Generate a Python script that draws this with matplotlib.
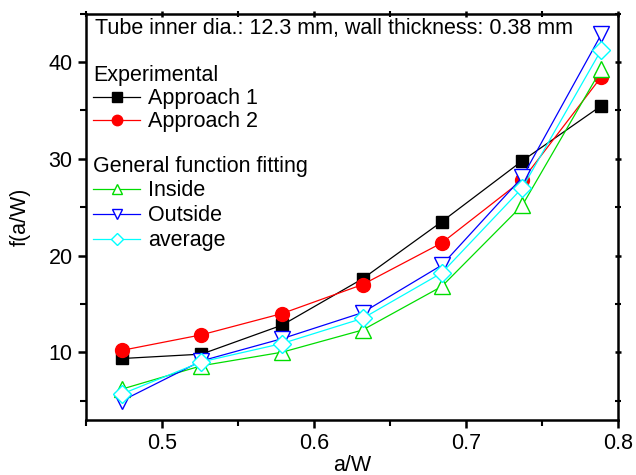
import matplotlib
matplotlib.use('Agg')
from matplotlib import pyplot as plt
from matplotlib.ticker import MultipleLocator

plt.rcParams['font.family'] = ['Liberation Sans', 'DejaVu Sans']

a_w = [0.474, 0.526, 0.579, 0.632, 0.684, 0.737, 0.789]
approach1 = [9.35, 9.8, 12.8, 17.6, 23.5, 29.8, 35.5]
approach2 = [10.2, 11.8, 14.0, 17.0, 21.3, 27.8, 38.5]
inside = [6.2, 8.6, 10.0, 12.3, 16.8, 25.2, 39.3]
outside = [5.0, 9.1, 11.4, 14.1, 19.0, 28.1, 42.9]
average = [5.7, 9.0, 10.9, 13.5, 18.2, 27.0, 41.3]

fig = plt.figure(figsize=(6.36, 4.75), dpi=100)
ax = fig.add_axes([0.135, 0.116, 0.837, 0.855])

lw = 0.9
h1, = ax.plot(a_w, approach1, '-s', color='black', lw=lw, ms=9, label='Approach 1')
h2, = ax.plot(a_w, approach2, '-o', color='red', lw=lw, ms=10, label='Approach 2')
h3, = ax.plot(a_w, inside, '-^', color='#00dd00', lw=lw, ms=11, mfc='white', mew=1, label='Inside')
h4, = ax.plot(a_w, outside, '-v', color='blue', lw=lw, ms=11, mfc='white', mew=1, label='Outside')
h5, = ax.plot(a_w, average, '-D', color='cyan', lw=lw, ms=9, mfc='white', mew=1, label='average')

ax.set_xlim(0.45, 0.8)
ax.set_ylim(3, 45)
ax.xaxis.set_major_locator(MultipleLocator(0.1))
ax.xaxis.set_minor_locator(MultipleLocator(0.05))
ax.yaxis.set_major_locator(MultipleLocator(10))
ax.yaxis.set_minor_locator(MultipleLocator(5))
ax.set_xticks([0.5, 0.6, 0.7, 0.8])
ax.set_xticklabels(['0.5', '0.6', '0.7', '0.8'])

fs = 15.5
for s in ax.spines.values():
    s.set_linewidth(1.8)
ax.tick_params(which='major', direction='out', length=6, width=1.8, labelsize=fs)
ax.tick_params(which='minor', direction='out', length=4, width=1.5)
ax.tick_params(which='both', top=True, right=True)
for t in ax.xaxis.get_major_ticks() + ax.xaxis.get_minor_ticks():
    t.tick2line.set_marker('|')
    t.tick2line.set_markersize(4)
for t in ax.yaxis.get_major_ticks() + ax.yaxis.get_minor_ticks():
    t.tick2line.set_marker('_')
    t.tick2line.set_markersize(4)

ax.set_xlabel('a/W', fontsize=fs, labelpad=1)
ax.set_ylabel('f(a/W)', fontsize=fs, labelpad=13)

ax.text(0.018, 0.99, 'Tube inner dia.: 12.3 mm, wall thickness: 0.38 mm',
        transform=ax.transAxes, fontsize=fs, va='top', ha='left')

leg1 = ax.legend(handles=[h1, h2], title='Experimental', loc='upper left',
                 bbox_to_anchor=(-0.003, 0.895), frameon=False, fontsize=fs,
                 title_fontsize=fs, alignment='left', handlelength=2.2,
                 handletextpad=0.35, borderaxespad=0, labelspacing=0.1,
                 markerscale=0.75)
ax.add_artist(leg1)
ax.legend(handles=[h3, h4, h5], title='General function fitting', loc='upper left',
          bbox_to_anchor=(-0.003, 0.672), frameon=False, fontsize=fs,
          title_fontsize=fs, alignment='left', handlelength=2.2,
          handletextpad=0.35, borderaxespad=0, labelspacing=0.18,
          markerscale=0.7)

fig.savefig('out.png', dpi=100)
